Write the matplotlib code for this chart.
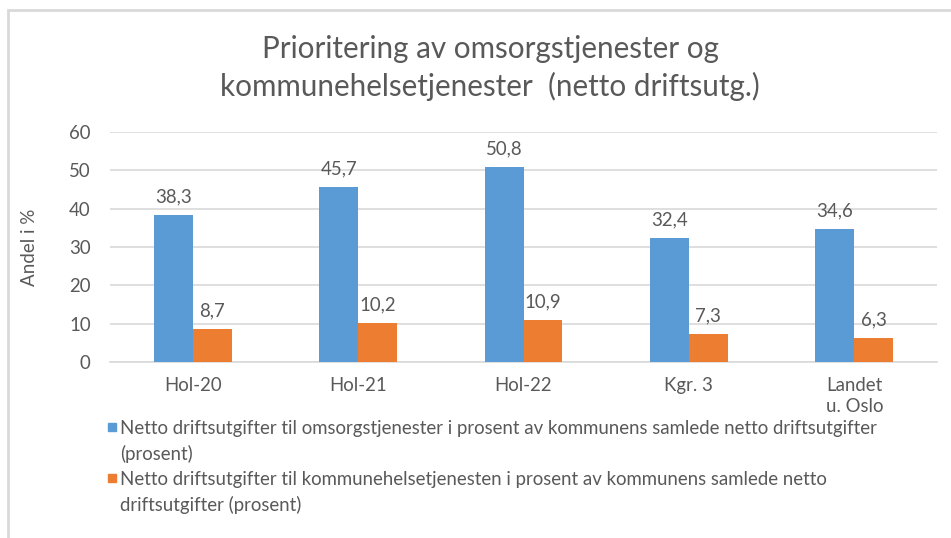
import matplotlib
matplotlib.use("Agg")
import matplotlib.pyplot as plt
from matplotlib.patches import Rectangle
import numpy as np

categories = ["Hol-20", "Hol-21", "Hol-22", "Kgr. 3", "Landet\nu. Oslo"]
omsorg = [38.3, 45.7, 50.8, 32.4, 34.6]
helse = [8.7, 10.2, 10.9, 7.3, 6.3]
series_names = [
    "Netto driftsutgifter til omsorgstjenester i prosent av kommunens samlede netto driftsutgifter\n(prosent)",
    "Netto driftsutgifter til kommunehelsetjenesten i prosent av kommunens samlede netto\ndriftsutgifter (prosent)",
]
yticks = [0, 10, 20, 30, 40, 50, 60]
title = "Prioritering av omsorgstjenester og\nkommunehelsetjenester  (netto driftsutg.)"

plt.rcParams['font.family'] = ['Lato', 'DejaVu Sans']
txt = "#595959"
blue = "#5B9BD5"
orange = "#ED7D31"
grid = "#D9D9D9"
fs = 13.4

W, H = 951, 538
fig = plt.figure(figsize=(W/100, H/100), dpi=100)
ax = fig.add_axes([110/W, 1-362/H, (937-110)/W, (362-132)/H])

x = np.arange(len(categories))
w = 0.235
b1 = ax.bar(x - w/2, omsorg, w, color=blue, zorder=3)
b2 = ax.bar(x + w/2, helse, w, color=orange, zorder=3)
for bars, vals in ((b1, omsorg), (b2, helse)):
    for r, v in zip(bars, vals):
        ax.annotate(f"{v:.1f}".replace(".", ","), (r.get_x() + r.get_width()/2, v),
                    xytext=(0, 7), textcoords="offset points", ha="center", va="bottom",
                    fontsize=fs, color=txt)

ax.set_xlim(-0.5, len(categories) - 0.5)
ax.set_ylim(0, 60)
ax.set_yticks(yticks)
ax.set_xticks(x)
ax.set_xticklabels(categories, linespacing=1.25)
ax.tick_params(axis="both", length=0, labelsize=fs, colors=txt)
ax.tick_params(axis="x", pad=11)
ax.tick_params(axis="y", pad=14)
ax.grid(axis="y", color=grid, linewidth=1.2, zorder=0)
for s in ["top", "right", "left"]:
    ax.spines[s].set_visible(False)
ax.spines["bottom"].set_color(grid)
ax.spines["bottom"].set_linewidth(1.2)
ax.set_ylabel("Andel i %", fontsize=13.5, color=txt, labelpad=22)

fig.text(490/W, 1-68/H, title, ha="center", va="center", fontsize=21.3,
         color=txt, linespacing=1.4)

# legend (drawn manually so that markers align with first line)
colors = [blue, orange]
entry_y = [427, 478]
line_gap = 25.5
for name, c, y0 in zip(series_names, colors, entry_y):
    fig.patches.append(Rectangle((108/W, 1-(y0+4)/H), 8/W, 8/H, transform=fig.transFigure,
                                 color=c))
    for i, line in enumerate(name.split("\n")):
        fig.text(120/W, 1-(y0 + i*line_gap)/H, line, ha="left", va="center_baseline",
                 fontsize=fs, color=txt)

fig.patches.append(Rectangle((8/W, -0.1), 1.2, 1.1 - 10/H, transform=fig.transFigure,
                             fill=False, edgecolor=grid, linewidth=2))

fig.savefig("out.png", dpi=100)
